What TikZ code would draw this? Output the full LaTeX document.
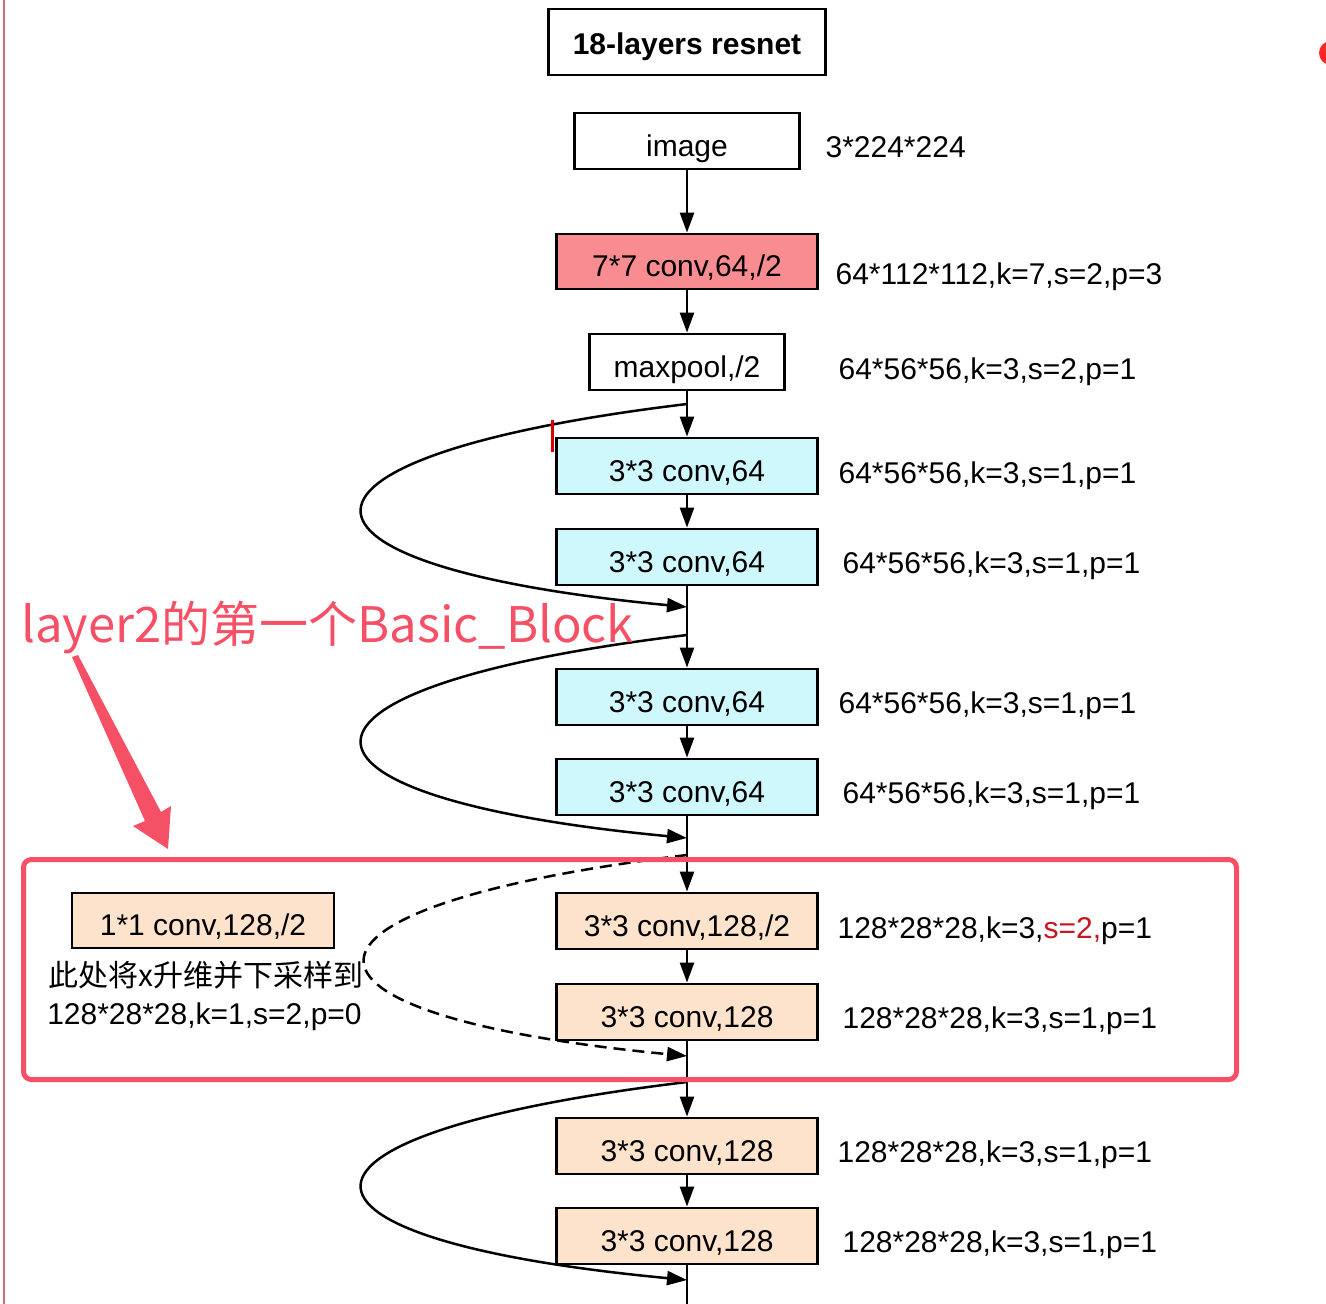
\documentclass[tikz,border=0pt]{standalone}
\usepackage{fontspec}
\setmainfont{Liberation Sans}
\newfontfamily\cjk{Noto Sans CJK SC}
\usetikzlibrary{arrows.meta,positioning,calc}
\definecolor{convR}{HTML}{F98C91}
\definecolor{convC}{HTML}{CFF8FC}
\definecolor{convP}{HTML}{FDE3CC}
\definecolor{markR}{HTML}{F55065}
\definecolor{darkR}{HTML}{C8141E}
\definecolor{edgeR}{HTML}{C87080}

\begin{document}
\begin{tikzpicture}[x=1pt, y=-1pt, >={Triangle[length=20pt,width=14pt]}, line width=2.5pt,
  blk/.style={draw, line width=2.8pt, minimum height=56pt, inner sep=0pt, text height=30pt, text depth=0pt, font=\fontsize{30}{36}\selectfont},
  dim/.style={anchor=base west, font=\fontsize{30}{36}\selectfont},
  skip/.style={->, line width=2.5pt}]
\useasboundingbox (0,0) rectangle (1326,1304);
\draw[edgeR, line width=1.5pt] (4,0) -- (4,1304);
\fill[red!80!pink] (1331,53) circle (12);
% main column
\node[blk, minimum width=277pt, minimum height=66pt, text height=26pt, text depth=2pt, font=\fontsize{30}{36}\selectfont\bfseries] (title) at (687,42) {18-layers resnet};
\node[blk, minimum width=225pt] (img) at (687,141) {image};
\node[blk, fill=convR, minimum width=261pt, minimum height=55pt] (c7) at (687,261.5) {7*7 conv,64,/2};
\node[blk, minimum width=195pt] (mp) at (687,362) {maxpool,/2};
\node[blk, fill=convC, minimum width=261pt] (c1) at (687,466) {3*3 conv,64};
\node[blk, fill=convC, minimum width=261pt] (c2) at (687,557) {3*3 conv,64};
\node[blk, fill=convC, minimum width=261pt] (c3) at (687,697) {3*3 conv,64};
\node[blk, fill=convC, minimum width=261pt] (c4) at (687,787) {3*3 conv,64};
\node[blk, fill=convP, minimum width=261pt] (d1) at (687,921) {3*3 conv,128,/2};
\node[blk, fill=convP, minimum width=261pt] (d2) at (687,1012) {3*3 conv,128};
\node[blk, fill=convP, minimum width=261pt] (d3) at (687,1146) {3*3 conv,128};
\node[blk, fill=convP, minimum width=261pt] (d4) at (687,1236) {3*3 conv,128};
\node[blk, fill=convP, minimum width=262pt, minimum height=55pt] (sc) at (203,920.5) {1*1 conv,128,/2};
% sizes
\node[dim] (limg) at (821,157) {3*224*224};
\node[dim] (lc7) at (831,284) {64*112*112,k=7,s=2,p=3};
\node[dim] (lmp) at (834,379) {64*56*56,k=3,s=2,p=1};
\node[dim] (lc1) at (834,483) {64*56*56,k=3,s=1,p=1};
\node[dim] (lc2) at (838,573) {64*56*56,k=3,s=1,p=1};
\node[dim] (lc3) at (834,713) {64*56*56,k=3,s=1,p=1};
\node[dim] (lc4) at (838,803) {64*56*56,k=3,s=1,p=1};
\node[dim] (ld1) at (833,938) {128*28*28,k=3,{\color{darkR}s=2,}p=1};
\node[dim] (ld2) at (838,1028) {128*28*28,k=3,s=1,p=1};
\node[dim] (ld3) at (833,1162) {128*28*28,k=3,s=1,p=1};
\node[dim] (ld4) at (838,1252) {128*28*28,k=3,s=1,p=1};
\node[anchor=base west, font=\fontsize{30}{36}\selectfont\cjk, inner sep=0pt] (note) at (47,986) {此处将x升维并下采样到};
\node[dim, inner sep=0pt] (lsc) at (46,1024) {128*28*28,k=1,s=2,p=0};
% junctions
\coordinate (j1a) at (687,404);
\coordinate (j1b) at (687,607);
\coordinate (j2a) at (687,635);
\coordinate (j2b) at (687,838);
\coordinate (j3a) at (687,855);
\coordinate (j3b) at (687,1056);
\coordinate (j4a) at (687,1082);
\coordinate (j4b) at (687,1280);
\coordinate (bot) at (687,1304);
% arrows
\draw[->] (img) -- (c7);
\draw[->] (c7) -- (mp);
\draw[->] (mp) -- (c1);
\draw[->] (c1) -- (c2);
\draw[->] (c2) -- (c3);
\draw[->] (c3) -- (c4);
\draw[->] (c4) -- (d1);
\draw[->] (d1) -- (d2);
\draw[->] (d2) -- (d3);
\draw[->] (d3) -- (d4);
\draw (d4) -- (bot);
\draw[skip] (j1a) .. controls +(-432,52) and +(-432,-41) .. (j1b);
\draw[skip] (j2a) .. controls +(-432,52) and +(-432,-41) .. (j2b);
\draw[skip, dash pattern=on 12pt off 7pt] (j3a) .. controls +(-428,52) and +(-428,-41) .. (j3b);
\draw[skip] (j4a) .. controls +(-432,52) and +(-432,-41) .. (j4b);
% marks
\draw[red!85!black, line width=3pt] (552,420) -- (552,452);
\node[anchor=base west, inner sep=0pt, text=markR, font=\fontsize{49}{56}\selectfont\cjk] (tag) at (20,642) {layer2的第一个Basic\_Block};
\fill[markR] (72,657) -- (145,821) -- (133,826) -- (168,849) -- (171,806) -- (161,812) -- (78,655) -- cycle;
\draw[markR, line width=5pt, rounded corners=8pt] (23.5,859.5) rectangle (1236.5,1079.5);
\end{tikzpicture}
\end{document}
